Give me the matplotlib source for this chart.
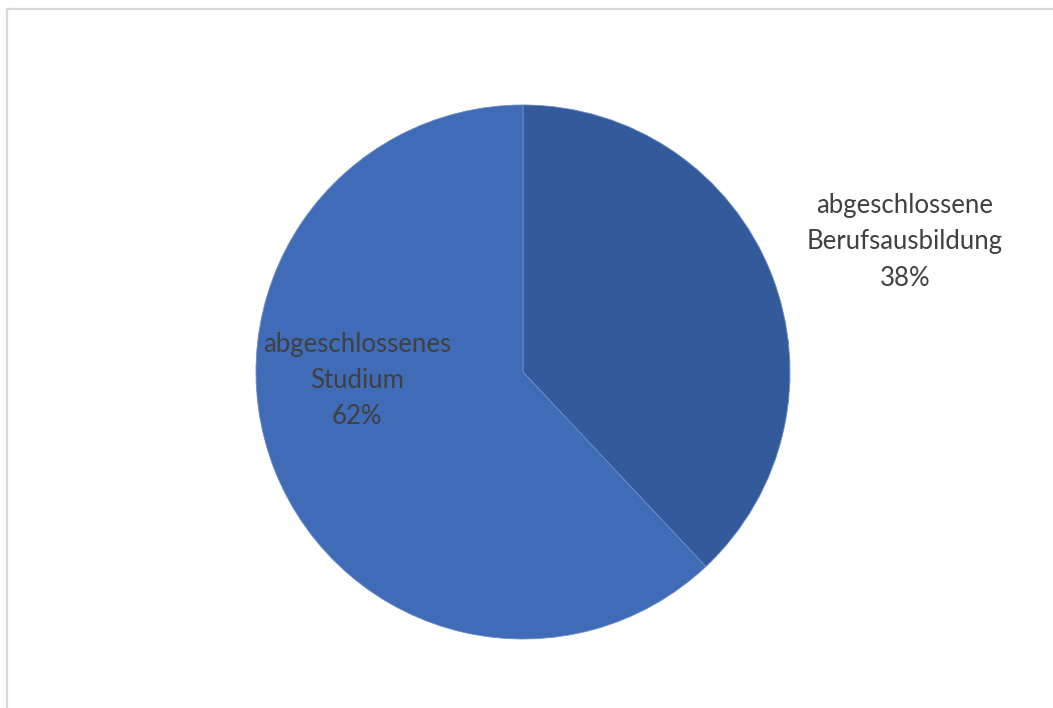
import matplotlib
matplotlib.use("Agg")
import matplotlib.pyplot as plt
from matplotlib.lines import Line2D

labels = ["abgeschlossene\nBerufsausbildung", "abgeschlossenes\nStudium"]
values = [38, 62]
colors = ["#335A9A", "#3F6BB7"]

W, H = 1053, 708
fig = plt.figure(figsize=(W / 100, H / 100), dpi=100)
fig.patch.set_facecolor("white")

# chart-area frame (top and left edges visible)
fig.add_artist(Line2D([7 / W, 1.0], [1 - 9 / H, 1 - 9 / H], color="#d9d9d9", lw=1.6))
fig.add_artist(Line2D([7 / W, 7 / W], [1 - 9 / H, 0], color="#d9d9d9", lw=1.6))

cx, cy, r = 523, 372, 267
ax = fig.add_axes([(cx - r) / W, (H - cy - r) / H, 2 * r / W, 2 * r / H])
wedges, _ = ax.pie(values, colors=colors, startangle=90, counterclock=False,
                   radius=1.0, wedgeprops=dict(edgecolor="#6a8cc8", linewidth=0.6))
ax.set_xlim(-1, 1)
ax.set_ylim(-1, 1)
ax.set_aspect("equal")
ax.axis("off")

total = sum(values)
label_pos = [(905, 242), (357, 380)]
for lab, v, (px, py) in zip(labels, values, label_pos):
    fig.text(px / W, 1 - py / H, f"{lab}\n{round(100 * v / total)}%",
             ha="center", va="center", fontsize=18.5, color="#404040",
             family="Lato", linespacing=1.55)

fig.savefig("out.png", dpi=100)
